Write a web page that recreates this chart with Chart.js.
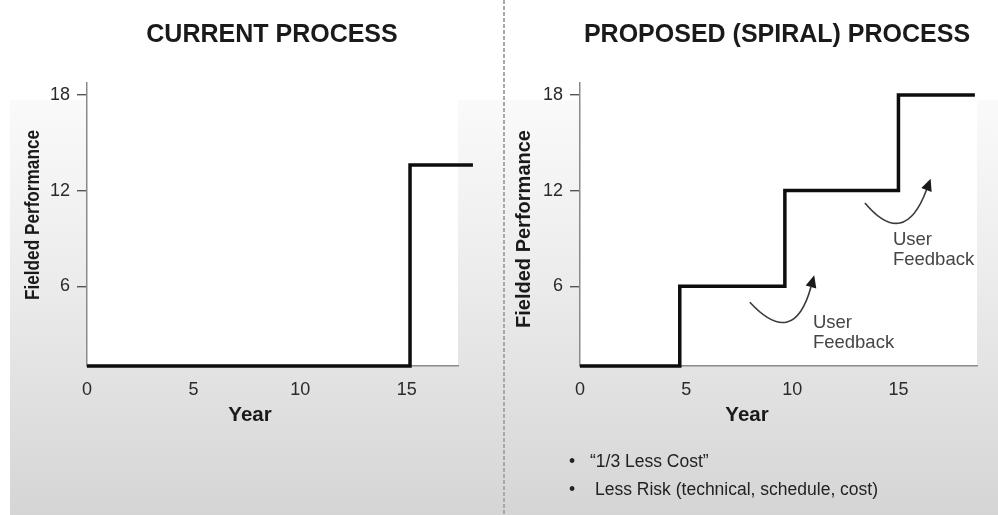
<!DOCTYPE html>
<html>
<head>
<meta charset="utf-8">
<script src="https://cdn.jsdelivr.net/npm/chart.js@4.4.1/dist/chart.umd.min.js"></script>
<style>
  html, body { margin:0; padding:0; }
  body { width:998px; height:515px; overflow:hidden; position:relative; background:#fff;
         font-family:"Liberation Sans", Arial, sans-serif; color:#1a1a1a; }
  #panel { position:absolute; left:10px; top:100px; right:0; bottom:0;
           background:linear-gradient(to bottom, #fafafa 0%, #ededed 40%, #d5d5d5 100%); }
  #divider { position:absolute; left:503px; top:0; width:2px; height:515px;
             background:repeating-linear-gradient(to bottom, #a8a8a8 0 4px, transparent 4px 6px); }
  canvas { position:absolute; top:0; }
  .t { position:absolute; white-space:nowrap; line-height:1; transform:translate(-50%,-50%); }
  .title { font-weight:bold; font-size:25px; color:#1a1a1a; top:32.5px; }
  .ytitle { font-weight:bold; font-size:20px; color:#1a1a1a; }
  .year { font-weight:bold; font-size:20.5px; color:#1a1a1a; top:414px; }
  .bul { position:absolute; font-size:17.5px; color:#222; line-height:1; white-space:nowrap; transform:translateY(-50%); }
</style>
</head>
<body>
<div id="panel"></div>
<div id="divider"></div>
<canvas id="c1" width="505" height="515" style="left:0"></canvas>
<canvas id="c2" width="493" height="515" style="left:505px"></canvas>

<div class="t title" style="left:272px">CURRENT PROCESS</div>
<div class="t title" style="left:777px">PROPOSED (SPIRAL) PROCESS</div>
<div class="t ytitle" id="yt1" style="left:32px; top:215px;">Fielded Performance</div>
<div class="t ytitle" id="yt2" style="left:522.5px; top:229px;">Fielded Performance</div>
<div class="t year" style="left:250px">Year</div>
<div class="t year" style="left:747px">Year</div>
<div class="bul" style="left:569px; top:461.5px;">•</div>
<div class="bul" style="left:590px; top:461.5px;">“1/3 Less Cost”</div>
<div class="bul" style="left:569px; top:490px;">•</div>
<div class="bul" style="left:595px; top:490px;">Less Risk (technical, schedule, cost)</div>

<script>
// ---- data ----
const currentYears = [0, 15.15, 18.1];
const currentPerf  = [1, 13.6, 13.6];
const spiralYears  = [0, 4.7, 9.65, 15.0, 18.6];
const spiralPerf   = [1, 6, 12, 18, 18];
const xTickValues  = [0, 5, 10, 15];
const yTickValues  = [6, 12, 18];
const feedbackArrows = [
  { start:[8.0, 5.0],  via:[9.75, 3.76], end:[10.88, 5.96] },
  { start:[13.42, 11.23], via:[15.07, 9.97], end:[16.32, 12.04] }
];
const feedbackLabels = [
  { x:10.97, lines:[[ 'User', 3.69 ], [ 'Feedback', 2.44 ]] },
  { x:14.74, lines:[[ 'User', 8.9 ],  [ 'Feedback', 7.65 ]] }
];

// ---- y title sizing ----
function fitRot(id, len) {
  const el = document.getElementById(id);
  const w = el.getBoundingClientRect().width;
  el.style.transform = 'translate(-50%,-50%) rotate(-90deg) scaleX(' + (len / w) + ')';
}
fitRot('yt1', 170);
fitRot('yt2', 198);

const whiteArea = {
  id: 'whiteArea',
  beforeDraw(chart) {
    const a = chart.chartArea, c = chart.ctx;
    c.save(); c.fillStyle = '#ffffff';
    c.fillRect(a.left, a.top, a.right - a.left, a.bottom - a.top);
    c.restore();
  }
};

const feedback = {
  id: 'feedback',
  afterDatasetsDraw(chart) {
    const c = chart.ctx, xs = chart.scales.x, ys = chart.scales.y;
    const P = p => [xs.getPixelForValue(p[0]), ys.getPixelForValue(p[1])];
    c.save();
    feedbackArrows.forEach(a => {
      const s = P(a.start), v = P(a.via), e = P(a.end);
      const cx = 2 * v[0] - 0.5 * (s[0] + e[0]);
      const cy = 2 * v[1] - 0.5 * (s[1] + e[1]);
      c.strokeStyle = '#3a3a3a'; c.lineWidth = 1.6;
      c.beginPath(); c.moveTo(s[0], s[1]); c.quadraticCurveTo(cx, cy, e[0], e[1]); c.stroke();
      let dx = e[0] - cx, dy = e[1] - cy; const L = Math.hypot(dx, dy); dx /= L; dy /= L;
      const tip = [e[0] + dx * 12, e[1] + dy * 12];
      c.fillStyle = '#1a1a1a';
      c.beginPath();
      c.moveTo(tip[0], tip[1]);
      c.lineTo(e[0] - dy * 5.5, e[1] + dx * 5.5);
      c.lineTo(e[0] + dy * 5.5, e[1] - dx * 5.5);
      c.closePath(); c.fill();
    });
    c.fillStyle = '#454545';
    c.font = '18.5px "Liberation Sans", Arial, sans-serif';
    c.textAlign = 'left'; c.textBaseline = 'middle';
    feedbackLabels.forEach(l => {
      l.lines.forEach(([txt, y]) => c.fillText(txt, xs.getPixelForValue(l.x), ys.getPixelForValue(y)));
    });
    c.restore();
  }
};

function makeChart(id, xs, ys, xMax, padRight, yAxisWidth, plugins) {
  return new Chart(document.getElementById(id), {
    type: 'line',
    data: {
      datasets: [{
        data: xs.map((x, i) => ({ x: x, y: ys[i] })),
        stepped: true,
        borderColor: '#0d0d0d',
        borderWidth: 3.5,
        pointRadius: 0,
        fill: false,
        clip: false
      }]
    },
    options: {
      responsive: false,
      animation: false,
      devicePixelRatio: 1,
      layout: { padding: { top: 83, right: padRight, left: 0, bottom: 0 } },
      plugins: { legend: { display: false }, tooltip: { enabled: false } },
      scales: {
        x: {
          type: 'linear', min: 0, max: xMax,
          afterBuildTicks: s => { s.ticks = xTickValues.map(v => ({ value: v })); },
          afterFit: s => { s.height = 149; },
          grid: { display: false },
          border: { display: true, color: '#8a8a8a', width: 1.5 },
          ticks: { color: '#2a2a2a', padding: 5, font: { family: '"Liberation Sans", Arial, sans-serif', size: 18 } }
        },
        y: {
          type: 'linear', min: 1, max: 18.75,
          afterBuildTicks: s => { s.ticks = yTickValues.map(v => ({ value: v })); },
          afterFit: s => { s.width = yAxisWidth; },
          grid: { display: true, drawOnChartArea: false, drawTicks: true, tickLength: 10, color: '#555', lineWidth: 1.4 },
          border: { display: true, color: '#8a8a8a', width: 1.5 },
          ticks: { color: '#2a2a2a', padding: 7, font: { family: '"Liberation Sans", Arial, sans-serif', size: 18 } }
        }
      }
    },
    plugins: plugins
  });
}

makeChart('c1', currentYears, currentPerf, 17.4, 47, 87, [whiteArea]);
makeChart('c2', spiralYears, spiralPerf, 18.7, 21, 75, [whiteArea, feedback]);
</script>
</body>
</html>
